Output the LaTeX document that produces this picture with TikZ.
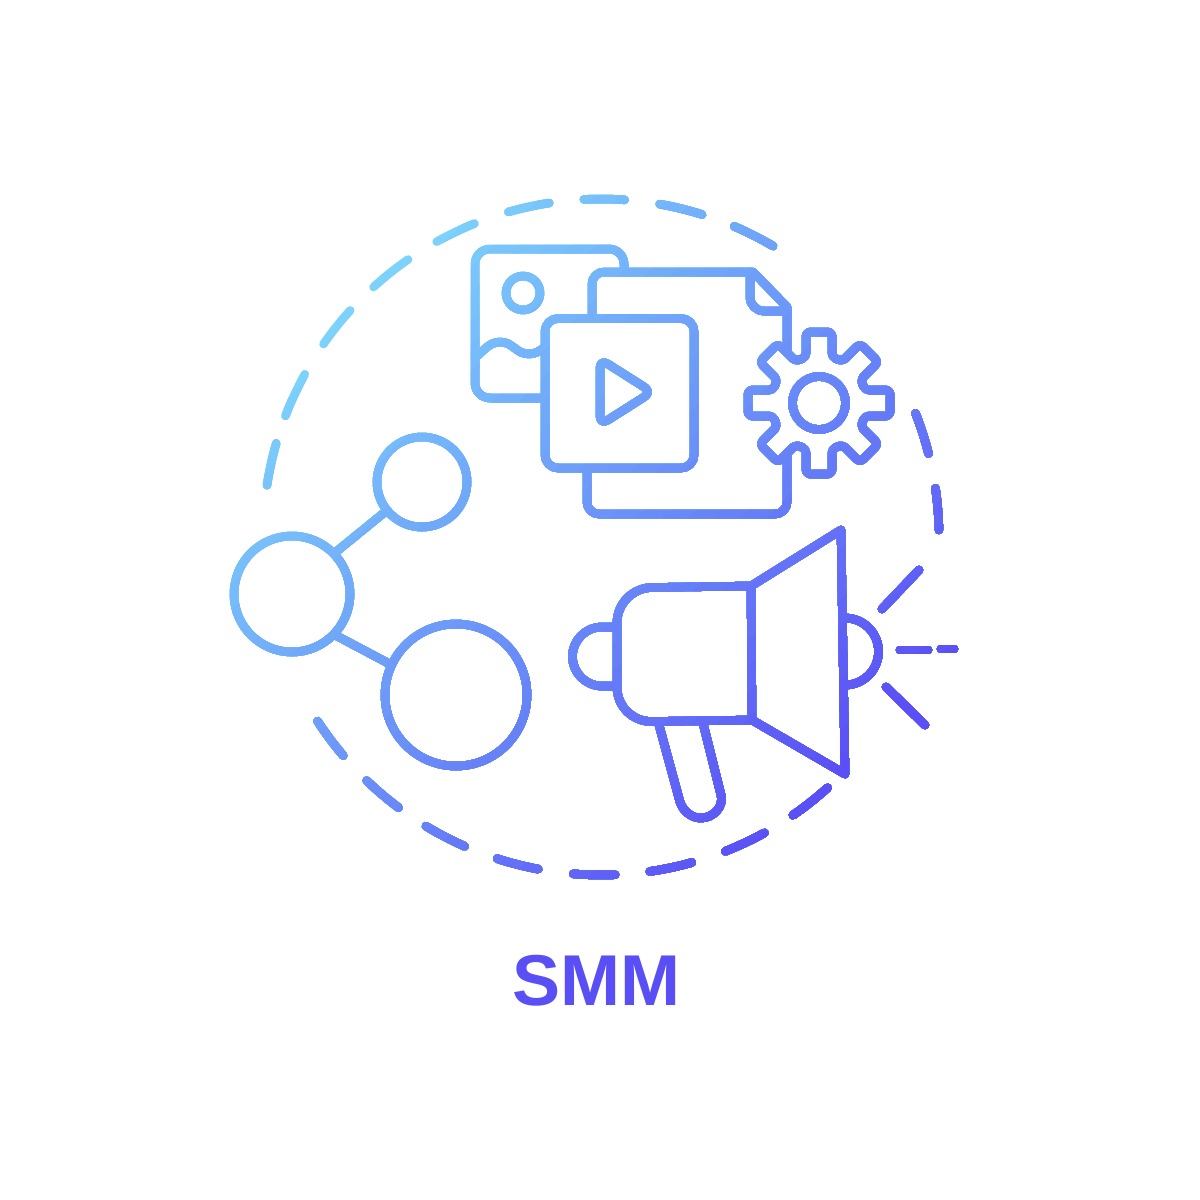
\documentclass[tikz,border=0pt]{standalone}
\usepackage{fontspec}
\setmainfont{Liberation Sans}
\definecolor{gradstart}{RGB}{124,210,251}
\definecolor{gradend}{RGB}{90,78,245}
\colorlet{bandc}{gradstart}
\tikzset{
  art/.style={line width=8.5pt,line cap=round,line join=round,draw=bandc},
  sharecircle/.style={circle,draw=bandc,line width=8.5pt,inner sep=0pt,outer sep=0pt},
  titletext/.style={text=gradend,font=\fontsize{72}{72}\selectfont\bfseries,inner sep=0pt}
}
\newcommand{\drawart}{%
  % dashed ring
  \foreach \a/\b in {188.8/196.1,201/208.8,214.8/222.1,227.7/235.2,240.9/248,254.1/261.2,267.1/274,280/287.4,293.2/300.6,-21.5/-14.3,-8.3/-1.2,47.9/55.4,61.1/68.4,74.4/81.7,87.6/94.7,100.7/107.9,113.8/121.2,126.8/133.9,139.7/147}
    {\draw[art] (601,537)+(\a:338) arc[start angle=\a,end angle=\b,radius=338];}
  % picture frame
  \draw[art,rounded corners=15] (624,272) -- (624,249) -- (475,249) -- (475,398) -- (545,398);
  \draw[art] (523,293) circle[radius=17];
  \draw[art] (475,358) .. controls (484,350) and (490,342) .. (500,342)
     .. controls (513,342) and (516,354) .. (529,354)
     .. controls (535,354) and (540,351) .. (545,347);
  % video box and play sign
  \draw[art,rounded corners=13] (545,330) -- (545,318.5) -- (694,318.5) -- (694,468) -- (545,468) -- (545,318.5) -- (560,318.5);
  \draw[art,rounded corners=9] (600,380) -- (600,359) -- (652,392) -- (600,425) -- cycle;
  % document
  \draw[art] (592,318) [rounded corners=12] -- (592,272) [sharp corners] -- (753,272) -- (787,307) -- (787,352);
  \draw[art,rounded corners=14] (750,272) -- (750,311) -- (787,311);
  \draw[art,rounded corners=12] (587,472) -- (587,514) -- (787,514) -- (787,453);
  % gear
  \begin{scope}[shift={(819,403)}]
    \draw[art,rounded corners=4]
      (46,-13) -- (71,-13) -- (71,13) -- (46,13) --
      (41.7,23.3) -- (59.4,41) -- (41,59.4) -- (23.3,41.7) --
      (13,46) -- (13,71) -- (-13,71) -- (-13,46) --
      (-23.3,41.7) -- (-41,59.4) -- (-59.4,41) -- (-41.7,23.3) --
      (-46,13) -- (-71,13) -- (-71,-13) -- (-46,-13) --
      (-41.7,-23.3) -- (-59.4,-41) -- (-41,-59.4) -- (-23.3,-41.7) --
      (-13,-46) -- (-13,-71) -- (13,-71) -- (13,-46) --
      (23.3,-41.7) -- (41,-59.4) -- (59.4,-41) -- (41.7,-23.3) -- cycle;
    \draw[art] (0,0) circle[radius=26.5];
  \end{scope}
  % share icon
  \node[sharecircle,minimum size=90pt] (shareTop) at (422,482) {};
  \node[sharecircle,minimum size=116pt] (shareLeft) at (292,594) {};
  \node[sharecircle,minimum size=142pt] (shareBottom) at (456,695) {};
  \draw[art] (shareLeft.44) -- (shareTop.219);
  \draw[art] (shareLeft.-44) -- (shareBottom.155);
  % megaphone
  \draw[art,rounded corners=35] (751,586) -- (617,588) -- (617,722) -- (752,720);
  \draw[art] (751,586) -- (752,720);
  \draw[art] (751,586) -- (841,530) -- (845,774) -- (752,720);
  \draw[art] (616,627) -- (602,627) arc[start angle=-90,end angle=-270,radius=29.5] -- (617,686);
  \draw[art] (845,618) arc[start angle=-90,end angle=90,radius=33.5];
  \draw[art] (659,725) -- (680,802) .. controls (684,813) and (693,818) .. (701,818)
     .. controls (713,818) and (724,807) .. (721,795) -- (703,723);
  % sound lines
  \draw[art] (882,609) -- (919,570);
  \draw[art] (900,650) -- (928,650);
  \draw[art] (941,649) -- (954,649);
  \draw[art] (886,687) -- (925,725);
}
\begin{document}
\begin{tikzpicture}[x=1pt,y=-1pt]
  \useasboundingbox (0,0) rectangle (1200,1200);
  \fill[white] (0,0) rectangle (1200,1200);
  % the art is painted band over band, so that its strokes follow the diagonal gradient
  \foreach \s in {0,686,712,...,1620}{
    \pgfmathsetmacro{\p}{min(100,max(0,(\s+13-660)/9.6))}
    \colorlet{bandc}{gradend!\p!gradstart}
    \begin{scope}
      \clip (\s+1500,-1500) -- (\s-1500,1500) -- (\s+1500,1500) -- cycle;
      \drawart
    \end{scope}
  }
  \node[titletext,anchor=base] (title) at (596,1005) {SMM};
\end{tikzpicture}
\end{document}
